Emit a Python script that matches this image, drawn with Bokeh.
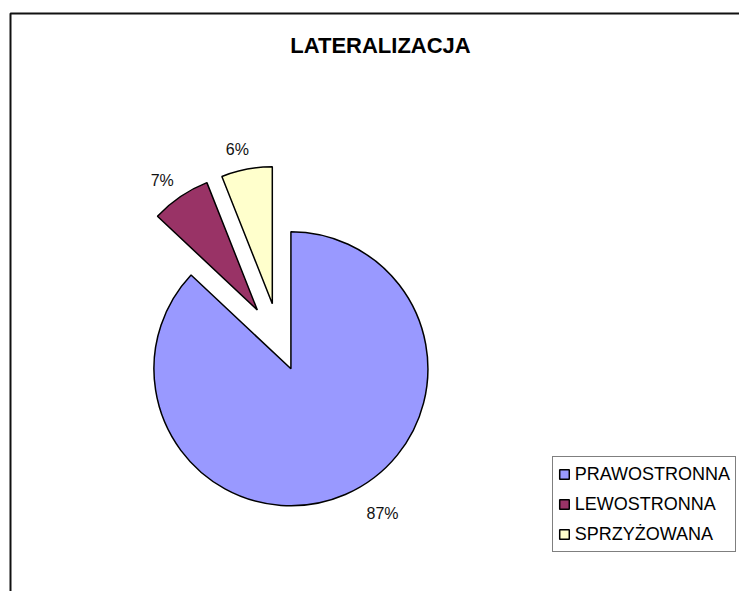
import math
from bokeh.plotting import figure
from bokeh.models import ColumnDataSource, Range1d, Label, Legend, LegendItem
from bokeh.core.properties import value
from bokeh.embed import file_html
from bokeh.resources import INLINE

# ---- data ----
title_text = "LATERALIZACJA"
categories = ["PRAWOSTRONNA", "LEWOSTRONNA", "SPRZYŻOWANA"]
values = [87, 7, 6]
colors = ["#9999FF", "#993366", "#FFFFCC"]

# ---- style ----
W, H = 739, 591
FONT = "Liberation Sans"
center = (279.3, 248.4)      # pie centre in plot units (1 unit = 1 px)
radius = 137
explode = [28, 40, 40]       # px offset of each slice
label_dist = [171, 161, 158]
label_nudge = [9, 2, 2]      # deg

total = float(sum(values))
cum = 0.0
xs, ys, starts, ends, lx, ly, ltxt = [], [], [], [], [], [], []
for i, v in enumerate(values):
    f0 = cum / total
    cum += v
    f1 = cum / total
    s = 90 - 360 * f1
    e = 90 - 360 * f0
    mid = math.radians((s + e) / 2)
    ax = center[0] + explode[i] * math.cos(mid)
    ay = center[1] + explode[i] * math.sin(mid)
    xs.append(ax); ys.append(ay)
    starts.append(math.radians(s)); ends.append(math.radians(e))
    la = mid + math.radians(label_nudge[i])
    lx.append(ax + label_dist[i] * math.cos(la))
    ly.append(ay + label_dist[i] * math.sin(la))
    ltxt.append(f"{round(v / total * 100)}%")

src = ColumnDataSource(dict(x=xs, y=ys, start=starts, end=ends, color=colors,
                            cat=categories, lx=lx, ly=ly, lt=ltxt))

p = figure(width=W, height=H, output_backend="svg", toolbar_location=None,
           x_range=Range1d(0, W), y_range=Range1d(0, H), min_border=0,
           background_fill_color="white", border_fill_color="white")
p.axis.visible = False
p.grid.visible = False
p.outline_line_color = None

# chart-area border (left and top edges visible)
p.line([10, 10, W + 20], [-20, 578, 578], line_color="#111111", line_width=2)

wedges = p.wedge(x="x", y="y", radius=radius, start_angle="start", end_angle="end",
                 direction="anticlock", source=src,
                 fill_color="color", line_color="black", line_width=1.5)

p.text(x="lx", y="ly", text="lt", source=src, text_align="center",
       text_baseline="middle", text_font=value(FONT), text_font_size="16px",
       text_color="#111111")

p.add_layout(Label(x=380, y=H - 45, x_units="screen", y_units="screen",
                   text=title_text, text_font=FONT, text_font_size="22px",
                   text_font_style="bold", text_align="center",
                   text_baseline="middle", text_color="black"))

legend = Legend(items=[LegendItem(label=c, renderers=[wedges], index=i)
                       for i, c in enumerate(categories)],
                location=(551.7, 39), padding=5, spacing=6,
                label_height=24, glyph_width=12, glyph_height=12,
                label_standoff=5, label_text_font=FONT,
                label_text_font_size="18px", label_text_color="black",
                border_line_color="black", border_line_width=1.5,
                background_fill_color="white", background_fill_alpha=1.0,
                margin=0)
p.add_layout(legend, "center")

open("out.html", "w").write(file_html(p, INLINE))
